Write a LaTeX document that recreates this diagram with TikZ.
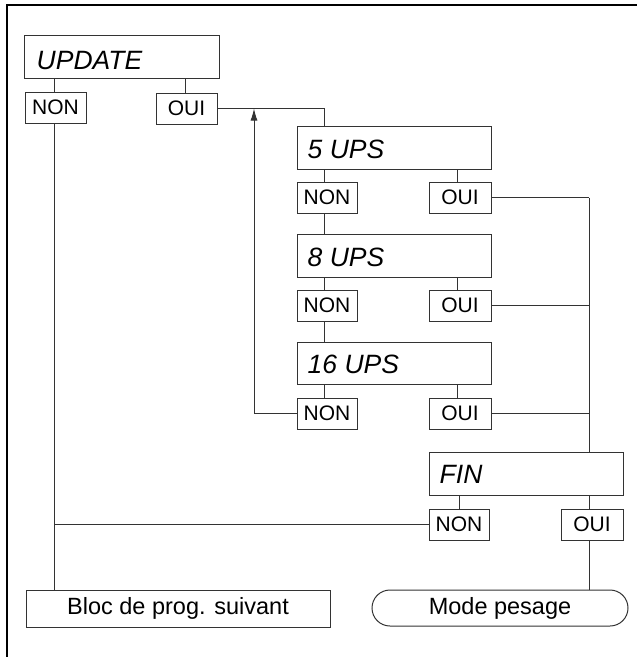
\documentclass[tikz,border=0pt]{standalone}
\usepackage{fontspec}
\setmainfont{Liberation Sans}
\usetikzlibrary{calc,arrows.meta}
\tikzset{
  ln/.style={draw=black!80, line width=1pt},
  bigbox/.style={ln, rectangle, inner sep=0pt, minimum width=194pt, minimum height=43pt},
  smallbox/.style={ln, rectangle, inner sep=0pt, minimum height=31pt, font=\fontsize{21}{25}\selectfont},
  bigtxt/.style={anchor=base west, inner sep=0pt, font=\fontsize{26.5}{30}\selectfont\itshape},
  endbox/.style={ln, rectangle, inner sep=0pt, minimum height=37pt, font=\fontsize{23.5}{28}\selectfont},
  arr/.style={ln, -{Latex[length=12pt,width=7pt]}}
}
\begin{document}
\begin{tikzpicture}[x=1pt,y=-1pt]
\useasboundingbox (0,0) rectangle (637,657);
\draw[line width=1.2pt] (7,657) -- (7,5) -- (637,5);

% columns for connectors
\coordinate (cA) at (54,0);
\coordinate (cB) at (185,0);
\coordinate (cC) at (324,0);
\coordinate (cD) at (457,0);
\coordinate (cE) at (589,0);
\coordinate (cL) at (254,0);

\node[bigbox, minimum width=195pt] (upd) at (121.5,56.5) {};
\node[bigtxt] at ($(upd.south west)+(13,-9)$) {UPDATE};
\node[smallbox, minimum width=61pt] (n0) at (55.5,107.5) {NON};
\node[smallbox, minimum width=61pt] (o0) at (186.5,108.5) {OUI};

\node[bigbox] (u5) at (394,147.5) {};
\node[bigtxt] at ($(u5.south west)+(11,-10.7)$) {5 UPS};
\node[smallbox, minimum width=60pt] (n1) at (327,197.5) {NON};
\node[smallbox, minimum width=62pt] (o1) at (460,197.5) {OUI};

\node[bigbox] (u8) at (394,255.5) {};
\node[bigtxt] at ($(u8.south west)+(11,-10.7)$) {8 UPS};
\node[smallbox, minimum width=60pt] (n2) at (327,305.5) {NON};
\node[smallbox, minimum width=62pt] (o2) at (460,305.5) {OUI};

\node[bigbox, minimum height=42pt] (u16) at (394,363) {};
\node[bigtxt] at ($(u16.south west)+(11,-10.7)$) {16 UPS};
\node[smallbox, minimum width=60pt] (n3) at (327,413.5) {NON};
\node[smallbox, minimum width=62pt] (o3) at (460,413.5) {OUI};

\node[bigbox] (fin) at (526,473.5) {};
\node[bigtxt] at ($(fin.south west)+(11,-12)$) {FIN};
\node[smallbox, minimum width=60pt] (n4) at (459,524.5) {NON};
\node[smallbox, minimum width=62pt] (o4) at (592,524.5) {OUI};

\node[endbox, minimum width=304pt] (bloc) at (178,608.5) {Bloc de prog. suivant};
\node[endbox, minimum width=256pt, minimum height=36pt, rounded corners=18pt] (mode) at (500,608) {Mode pesage};

% connectors
\draw[ln] (upd.south -| cA) -- (n0.north -| cA);
\draw[ln] (upd.south -| cB) -- (o0.north -| cB);
\draw[ln] (n0.south -| cA) -- (bloc.north -| cA);
\draw[ln] (o0.east) -| (u5.north -| cC);

\draw[ln] (u5.south -| cC) -- (n1.north -| cC);
\draw[ln] (u5.south -| cD) -- (o1.north -| cD);
\draw[ln] (n1.south -| cC) -- (u8.north -| cC);
\draw[ln] (u8.south -| cC) -- (n2.north -| cC);
\draw[ln] (u8.south -| cD) -- (o2.north -| cD);
\draw[ln] (n2.south -| cC) -- (u16.north -| cC);
\draw[ln] (u16.south -| cC) -- (n3.north -| cC);
\draw[ln] (u16.south -| cD) -- (o3.north -| cD);

\draw[arr] (n3.west) -| (o0.east -| cL);

\draw[ln] (o1.east) -- (o1.east -| cE);
\draw[ln] (o2.east) -- (o2.east -| cE);
\draw[ln] (o3.east) -- (o3.east -| cE);
\draw[ln] (o1.east -| cE) -- (fin.north -| cE);

\draw[ln] (fin.south -| n4) -- (n4.north);
\draw[ln] (fin.south -| cE) -- (o4.north -| cE);
\draw[ln] (n4.west) -- (n4.west -| cA);
\draw[ln] (o4.south -| cE) -- (mode.north -| cE);
\end{tikzpicture}
\end{document}
